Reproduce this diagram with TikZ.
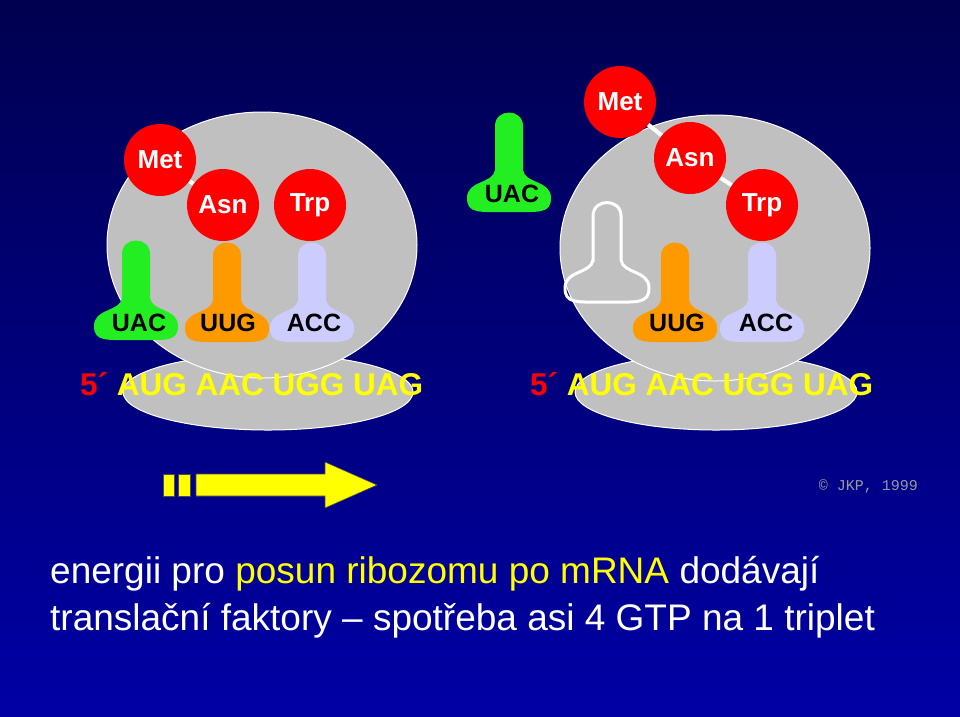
\documentclass[tikz,border=0pt]{standalone}
\usepackage{fontspec}
\setmainfont{Liberation Sans}
\setmonofont{Liberation Mono}
\definecolor{grn}{HTML}{22EE22}
\definecolor{org}{HTML}{FF9900}
\definecolor{lav}{HTML}{CCCCFF}
\definecolor{rib}{HTML}{C0C0C0}
\definecolor{ylw}{HTML}{FFFF00}
\newcommand\trnashape[4]{%
  \begin{scope}[shift={(#1,#2)}]
  \path[#3] (-14,60) -- (-14,14) .. controls (-14,-4) and (14,-4) .. (14,14) -- (14,58)
    .. controls (16,72) and (42,68) .. (42,86) .. controls (42,102) and (30,100) .. (0,100)
    .. controls (-30,100) and (-42,102) .. (-42,86) .. controls (-42,68) and (-16,72) .. (-14,58) -- cycle;
  \node[lab] (#4) at (0,84) {};
  \end{scope}}
\begin{document}
\begin{tikzpicture}[x=1pt,y=-1pt,
  lab/.style={inner sep=0pt,font=\bfseries\fontsize{25}{25}\selectfont},
  aa/.style={circle,fill=red,minimum size=72pt,inner sep=0pt,text=white,font=\bfseries\fontsize{26}{26}\selectfont},
  link/.style={white,line width=4pt},
  ribo/.style={fill=rib,draw=white,line width=1pt},
  mrna/.style={anchor=base west,inner sep=0pt,font=\bfseries\fontsize{31.5}{31.5}\selectfont}]
\useasboundingbox (0,0) rectangle (960,716);
\shade[top color={rgb,255:red,0;green,0;blue,80},bottom color={rgb,255:red,0;green,0;blue,165}] (0,0) rectangle (960,716);
% left ribosome
\path[ribo] (268,392) ellipse[x radius=145,y radius=38];
\path[ribo] (262,245) ellipse[x radius=155,y radius=133];
\trnashape{136}{240}{fill=grn}{t1}
\trnashape{227}{242}{fill=org}{t2}
\trnashape{312}{242}{fill=lav}{t3}
\node[lab] at (139,323) {UAC};
\node[lab] at (228,323) {UUG};
\node[lab] at (314,323) {ACC};
\coordinate (m1) at (160,160); \coordinate (a1) at (223,205);
\draw[link] (m1) -- (a1);
\node[aa] (met1) at (m1) {Met};
\node[aa] (asn1) at (a1) {Asn};
\node[aa] (trp1) at (310,205) {\raisebox{-2pt}{Trp}};
\node[mrna] (r1) at (80,395) {\textcolor{red}{5´} \textcolor{ylw}{AUG AAC UGG UAG}};
% right ribosome
\path[ribo] (716,392) ellipse[x radius=141,y radius=38];
\path[ribo] (715,248) ellipse[x radius=155,y radius=133];
\trnashape{509}{112}{fill=grn}{t4}
\node[lab] at (512,194) {UAC};
\trnashape{607}{202}{draw=white,line width=3pt}{t5}
\trnashape{675}{242}{fill=org}{t6}
\trnashape{762}{242}{fill=lav}{t7}
\node[lab] at (677,323) {UUG};
\node[lab] at (766,323) {ACC};
\coordinate (m2) at (620,102); \coordinate (a2) at (690,158); \coordinate (p2) at (762,205);
\draw[link] (m2) -- (a2) -- (p2);
\node[aa] (met2) at (m2) {Met};
\node[aa] (asn2) at (a2) {Asn};
\node[aa] (trp2) at (p2) {\raisebox{-2pt}{Trp}};
\node[mrna] (r2) at (530,395) {\textcolor{red}{5´} \textcolor{ylw}{AUG AAC UGG UAG}};
% arrow
\path[fill=ylw,draw=black!70,line width=0.6pt] (163,474) rectangle (174,496) (178,474) rectangle (190,496);
\path[fill=ylw,draw=black!70,line width=0.6pt] (196,474) -- (325,474) -- (325,462) -- (377,485) -- (325,508) -- (325,496) -- (196,496) -- cycle;
\node[anchor=base east,inner sep=0pt,text=black!40!white,font=\ttfamily\fontsize{15}{15}\selectfont] (cp) at (918,490) {© JKP, 1999};
\node[anchor=base west,inner sep=0pt,text=white,font=\fontsize{37}{37}\selectfont] (l1) at (50,583) {energii pro \textcolor{ylw}{posun ribozomu po mRNA} dodávají};
\node[anchor=base west,inner sep=0pt,text=white,font=\fontsize{37}{37}\selectfont] (l2) at (50,630) {translační faktory – spotřeba asi 4 GTP na 1 triplet};
\end{tikzpicture}
\end{document}
